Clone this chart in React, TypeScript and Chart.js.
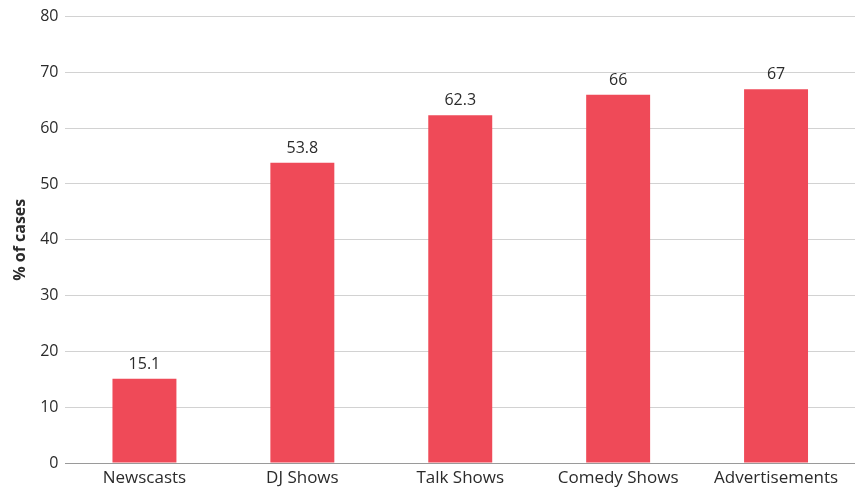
import React, { useEffect, useRef } from "react";
import { Chart, registerables } from "chart.js";

Chart.register(...registerables);

const categories = ["Newscasts", "DJ Shows", "Talk Shows", "Comedy Shows", "Advertisements"];
const shareOfCases = [15.1, 53.8, 62.3, 66, 67];
const yTicks = [0, 10, 20, 30, 40, 50, 60, 70, 80];

const FONT = "'Open Sans', 'Noto Sans', sans-serif";
const BAR_COLOR = "#EF4A58";
const TEXT_COLOR = "#2b2b2b";

// Writes each bar's value just above its top edge.
const valueLabels = {
  id: "valueLabels",
  afterDatasetsDraw(chart: Chart) {
    const { ctx } = chart;
    const meta = chart.getDatasetMeta(0);
    ctx.save();
    ctx.font = `16px ${FONT}`;
    ctx.fillStyle = TEXT_COLOR;
    ctx.textAlign = "center";
    ctx.textBaseline = "alphabetic";
    meta.data.forEach((el: any, i: number) => {
      ctx.fillText(String(shareOfCases[i]), el.x, el.y - 10);
    });
    ctx.restore();
  },
};

export default function App() {
  const canvasRef = useRef<HTMLCanvasElement | null>(null);

  useEffect(() => {
    document.body.style.margin = "0";
    const canvas = canvasRef.current;
    if (!canvas) return;
    const chart = new Chart(canvas, {
      type: "bar",
      data: {
        labels: categories,
        datasets: [
          {
            data: shareOfCases,
            backgroundColor: BAR_COLOR,
            barPercentage: 0.405,
            categoryPercentage: 1,
          },
        ],
      },
      options: {
        responsive: false,
        animation: false,
        maintainAspectRatio: false,
        layout: { padding: { top: 1, right: 0, left: 11, bottom: 0 } },
        plugins: {
          legend: { display: false },
          tooltip: { enabled: false },
        },
        scales: {
          x: {
            grid: { display: false, drawTicks: true, tickLength: 5 },
            border: { display: true, color: "#9a9a9a", width: 1 },
            ticks: {
              color: TEXT_COLOR,
              font: { family: FONT, size: 17, lineHeight: 1 },
              padding: 1.5,
              maxRotation: 0,
            },
          },
          y: {
            min: 0,
            max: 80,
            afterBuildTicks(axis: any) {
              axis.ticks = yTicks.map((v) => ({ value: v }));
            },
            grid: {
              color: (c: any) => (c.tick && c.tick.value === 0 ? "#9a9a9a" : "#d2d2d2"),
              drawTicks: false,
              lineWidth: 1,
            },
            border: { display: false },
            ticks: {
              color: TEXT_COLOR,
              font: { family: FONT, size: 16 },
              padding: 7,
            },
            title: {
              display: true,
              text: "% of cases",
              color: TEXT_COLOR,
              font: { family: FONT, size: 16, weight: "bold" },
              padding: { top: 0, bottom: 3 },
            },
          },
        },
      },
      plugins: [valueLabels],
    });
    return () => chart.destroy();
  }, []);

  return (
    <div style={{ width: 855, height: 488 }}>
      <canvas ref={canvasRef} width={855} height={488} style={{ display: "block" }} />
    </div>
  );
}
